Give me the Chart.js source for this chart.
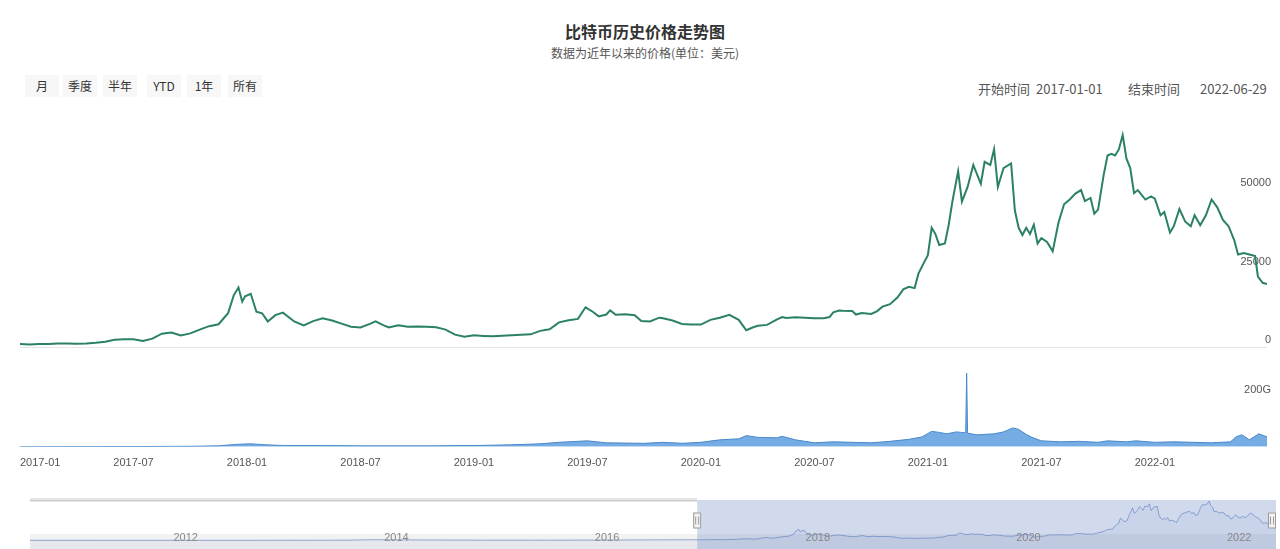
<!DOCTYPE html>
<html>
<head>
<meta charset="utf-8">
<script src="https://cdn.jsdelivr.net/npm/chart.js@4.4.1/dist/chart.umd.min.js"></script>
<style>
body { margin: 0; background: #fff; font-family: "Noto Sans CJK SC", "Liberation Sans", sans-serif; }
#wrap { position: relative; width: 1280px; height: 549px; overflow: hidden; }
.t { position: absolute; white-space: nowrap; line-height: 1; }
#title { left: 0; width: 1290px; top: 23px; text-align: center; font-size: 16px; font-weight: bold; color: #333; }
#subtitle { left: 0; width: 1290px; top: 47px; text-align: center; font-size: 12px; color: #555; }
.btn { position: absolute; top: 75px; height: 22px; width: 34px; line-height: 22px; text-align: center; font-size: 12px; color: #333; background: #f7f7f7; transform: translateX(-50%); }
.inp { position: absolute; top: 79px; font-size: 13px; color: #555; }
#mainBox { position: absolute; left: 0; top: 116px; width: 1280px; height: 358px; }
#navBox { position: absolute; left: 0; top: 497px; width: 1280px; height: 52px; }
</style>
</head>
<body>
<div id="wrap">
  <div class="t" id="title">比特币历史价格走势图</div>
  <div class="t" id="subtitle">数据为近年以来的价格(单位：美元)</div>
  <div id="buttons"></div>
  <div id="inputs"></div>
  <div id="mainBox"><canvas id="main"></canvas></div>
  <div id="navBox"><canvas id="nav"></canvas></div>
</div>
<script>
// x values are months counted from 2017-01-01
const priceX = [0, 0.5, 1, 1.5, 2, 2.5, 3, 3.5, 4, 4.5, 5, 5.5, 6, 6.5, 7, 7.5, 8, 8.5, 9, 9.5,
  10, 10.5, 11, 11.3, 11.55, 11.75, 11.9, 12.2, 12.5, 12.8, 13.1, 13.5, 13.9, 14.5, 15, 15.5,
  16, 16.5, 17, 17.5, 18, 18.5, 18.8, 19.2, 19.5, 20, 20.5, 21, 21.5, 22, 22.5, 23, 23.5, 24,
  24.5, 25, 25.5, 26, 26.5, 27, 27.5, 28, 28.5, 29, 29.5, 29.9, 30.3, 30.6, 31, 31.2, 31.5, 32,
  32.5, 32.85, 33.3, 33.8, 34, 34.5, 35, 35.5, 36,
  36.5, 37, 37.5, 38, 38.4, 38.7, 39, 39.5, 40, 40.3, 40.5, 41, 41.5, 42, 42.5, 42.8, 43, 43.3,
  43.5, 44, 44.2, 44.5, 45, 45.3, 45.6, 46, 46.4, 46.7, 47, 47.3, 47.5, 47.8, 48,
  48.2, 48.4, 48.6, 48.9, 49.1, 49.3, 49.6, 49.8, 50.1, 50.4, 50.6, 50.8, 51, 51.3, 51.5, 51.7,
  52, 52.4, 52.6, 52.8, 53, 53.2, 53.4, 53.6, 53.8, 54, 54.3, 54.6, 54.9, 55.2, 55.5, 55.8,
  56.1, 56.3, 56.6, 56.8, 57, 57.3, 57.5, 57.7, 57.9, 58.1, 58.3, 58.5, 58.7, 58.9, 59.1, 59.5,
  59.8, 60, 60.3, 60.5, 60.8, 61, 61.3, 61.6, 61.9, 62.1, 62.4, 62.7, 63, 63.3, 63.6, 63.9,
  64.2, 64.4, 64.7, 65, 65.3, 65.45, 65.7, 65.93];
const priceY = [1000, 830, 980, 1010, 1190, 1180, 1080, 1190, 1420, 1750, 2400, 2500, 2500, 2000, 2720, 4300, 4700, 3700, 4400, 5600,
  6700, 7300, 10800, 16500, 19000, 14500, 16200, 17000, 11300, 10800, 8200, 10200, 11000, 8200, 6900, 8300,
  9200, 8500, 7500, 6500, 6300, 7400, 8200, 7000, 6300, 7000, 6500, 6600, 6500, 6350, 5600, 4000, 3300, 3800,
  3600, 3450, 3650, 3800, 3950, 4100, 5200, 5700, 7900, 8600, 9000, 12700, 11200, 9800, 10400, 11700, 10300, 10500,
  10200, 8300, 8200, 9400, 9200, 8500, 7400, 7200, 7200,
  8700, 9400, 10300, 8700, 5400, 6200, 6800, 7100, 8800, 9600, 9300, 9500, 9400, 9200, 9200, 9600, 11100, 11700,
  11600, 11500, 10400, 10900, 10600, 11400, 12900, 13700, 15900, 18400, 19200, 18800, 23400, 27000, 29300,
  38000, 36000, 32500, 33000, 38900, 46500, 56000, 46300, 51000, 58000, 55000, 52000, 59000, 58000, 63000, 51000,
  57000, 58500, 43500, 38000, 35700, 38000, 36000, 39000, 33000, 34700, 33500, 30500, 39500, 45500, 47000, 48900,
  50000, 46500, 47500, 42500, 43800, 55000, 61000, 61500, 61000, 63000, 67500, 60000, 57000, 49000, 50000, 47000,
  48000, 47300, 42000, 43000, 36500, 38500, 44000, 40000, 38500, 42000, 38800, 42000, 47000, 44500, 40500, 38500,
  34000, 29500, 30000, 29500, 29000, 22500, 20500, 20100];

// volume in G (billions of USD)
const volX = [0, 6, 9, 10.5, 11.5, 12.2, 13, 14, 16, 18, 20, 22, 23, 24, 26, 27.5, 28.5, 29.5, 30, 31,
  33, 34, 35, 36, 37, 38, 38.4, 39, 40, 40.3, 41, 42, 43, 44, 45, 46, 47, 47.7, 48.2, 48.6,
  49, 49.5, 50.0, 50.05, 50.1, 50.3, 50.6, 51, 51.5, 52, 52.5, 52.8, 53.2, 53.5, 54, 55, 56, 57,
  57.5, 58.5, 59, 60, 61, 62, 63, 64, 64.3, 64.6, 65, 65.5, 65.93];
const volY = [0.5, 1, 2, 4, 10, 12, 8, 5, 5, 4, 4, 4, 5, 5, 8, 12, 18, 22, 24, 16,
  14, 18, 14, 18, 28, 32, 45, 38, 36, 42, 28, 16, 20, 18, 16, 22, 30, 40, 62, 58,
  52, 60, 56, 296, 55, 52, 48, 50, 52, 60, 76, 70, 50, 38, 24, 20, 22, 18,
  24, 20, 24, 18, 20, 18, 16, 20, 40, 48, 28, 52, 40];

// older history, only shown in the navigator
const earlyX = [-76, -67, -60, -50, -45, -40, -37, -31, -24, -19, -14, -7, -1];
const earlyY = [0.06, 18, 5, 13, 130, 200, 1000, 600, 250, 240, 350, 650, 950];

const endMonth = 65.93;
const navStart = -76;
const xTickMonths = [0, 6, 12, 18, 24, 30, 36, 42, 48, 54, 60];
const xTickLabels = ['2017-01', '2017-07', '2018-01', '2018-07', '2019-01', '2019-07',
  '2020-01', '2020-07', '2021-01', '2021-07', '2022-01'];
const priceTicks = [0, 25000, 50000];
const volTicks = [200];
const navYearMonths = [-60, -36, -12, 12, 36, 60];
const navYearLabels = ['2012', '2014', '2016', '2018', '2020', '2022'];
const rangeButtons = ['月', '季度', '半年', 'YTD', '1年', '所有'];
const buttonCenters = [42, 80, 120, 164, 204, 245];
const rangeTexts = ['开始时间', '2017-01-01', '结束时间', '2022-06-29'];
const rangeLefts = [978, 1036, 1128, 1200];

const pts = (xs, ys) => xs.map((x, i) => ({ x: x, y: ys[i] }));

rangeButtons.forEach((b, i) => {
  const el = document.createElement('div');
  el.className = 'btn';
  el.style.left = buttonCenters[i] + 'px';
  el.textContent = b;
  document.getElementById('buttons').appendChild(el);
});
rangeTexts.forEach((s, i) => {
  const el = document.createElement('div');
  el.className = 'inp';
  el.style.left = rangeLefts[i] + 'px';
  el.textContent = s;
  document.getElementById('inputs').appendChild(el);
});

Chart.defaults.font.family = '"Liberation Sans", "Noto Sans CJK SC", sans-serif';

new Chart(document.getElementById('main'), {
  type: 'line',
  data: {
    datasets: [{
      data: pts(priceX, priceY),
      yAxisID: 'y',
      borderColor: '#2b8168',
      borderWidth: 2,
      pointRadius: 0,
      tension: 0
    }, {
      data: pts(volX, volY),
      yAxisID: 'yv',
      borderColor: '#4a89cc',
      backgroundColor: '#74ace3',
      borderWidth: 1,
      pointRadius: 0,
      fill: 'origin'
    }]
  },
  options: {
    animation: false,
    responsive: true,
    maintainAspectRatio: false,
    layout: { padding: { left: 20, right: 5, top: 1, bottom: 2 } },
    plugins: { legend: { display: false }, tooltip: { enabled: false } },
    scales: {
      x: {
        type: 'linear',
        min: 0,
        max: endMonth,
        grid: { display: false },
        border: { display: false },
        afterBuildTicks: s => { s.ticks = xTickMonths.concat([endMonth]).map(v => ({ value: v })); },
        ticks: {
          autoSkip: false, maxRotation: 0, align: 'inner', padding: 2,
          color: '#555', font: { size: 11 },
          callback: (v, i) => xTickLabels[i] || ''
        }
      },
      y: {
        type: 'linear',
        position: 'right',
        stack: 'panels',
        stackWeight: 225,
        min: -1000,
        max: 70200,
        afterBuildTicks: s => { s.ticks = priceTicks.map(v => ({ value: v })); },
        grid: { drawTicks: false, color: c => (c.tick && c.tick.value === 0) ? '#e6e6e6' : 'transparent' },
        border: { display: false },
        ticks: { mirror: true, padding: 4, labelOffset: -7, color: '#555', font: { size: 11 }, callback: v => String(v) }
      },
      yv: {
        type: 'linear',
        position: 'right',
        stack: 'panels',
        stackWeight: 97,
        min: 0,
        max: 388,
        afterBuildTicks: s => { s.ticks = volTicks.map(v => ({ value: v })); },
        grid: { display: false, drawTicks: false },
        border: { display: false },
        ticks: { mirror: true, padding: 4, labelOffset: -7, color: '#555', font: { size: 11 }, callback: v => v + 'G' }
      }
    }
  }
});

// navigator band: mask over the selected range, handles and year labels
const navDecor = {
  id: 'navDecor',
  beforeDatasetsDraw(chart) {
    const a = chart.chartArea, ctx = chart.ctx;
    ctx.save();
    ctx.fillStyle = '#f2f2f2';
    ctx.fillRect(a.left, a.bottom - 15, a.right - a.left, 15);
    ctx.restore();
  },
  afterDatasetsDraw(chart) {
    const a = chart.chartArea, ctx = chart.ctx, xs = chart.scales.x;
    const x0 = xs.getPixelForValue(0), x1 = xs.getPixelForValue(endMonth);
    ctx.save();
    ctx.fillStyle = 'rgba(102,133,194,0.3)';
    ctx.fillRect(x0, a.top, x1 - x0, a.bottom - a.top);
    ctx.fillStyle = '#e6e6e6';
    ctx.fillRect(a.left, a.top - 2, x0 - a.left, 4);
    ctx.strokeStyle = '#cccccc';
    ctx.lineWidth = 1;
    ctx.beginPath();
    ctx.moveTo(a.left, a.top + 0.5);
    ctx.lineTo(x0, a.top + 0.5);
    ctx.stroke();
    const mid = (a.top + a.bottom) / 2 - 4;
    [x0, x1 - 4].forEach(h => {
      ctx.fillStyle = '#f2f2f2';
      ctx.strokeStyle = '#999';
      ctx.fillRect(h - 4, mid - 8, 8, 16);
      ctx.strokeRect(h - 3.5, mid - 7.5, 7, 15);
      ctx.beginPath();
      ctx.moveTo(h - 1.5, mid - 4); ctx.lineTo(h - 1.5, mid + 4);
      ctx.moveTo(h + 1.5, mid - 4); ctx.lineTo(h + 1.5, mid + 4);
      ctx.stroke();
    });
    ctx.fillStyle = '#888';
    ctx.font = '11px "Liberation Sans", sans-serif';
    ctx.textAlign = 'left';
    ctx.textBaseline = 'middle';
    navYearMonths.forEach((m, i) => {
      ctx.fillText(navYearLabels[i], xs.getPixelForValue(m) + 3, a.bottom - 11);
    });
    ctx.restore();
  }
};

new Chart(document.getElementById('nav'), {
  type: 'line',
  data: {
    datasets: [{
      data: pts(earlyX.concat(priceX), earlyY.concat(priceY)),
      borderColor: 'rgba(51,92,173,0.5)',
      backgroundColor: 'rgba(51,92,173,0.06)',
      borderWidth: 1,
      pointRadius: 0,
      fill: 'start'
    }]
  },
  options: {
    animation: false,
    responsive: true,
    maintainAspectRatio: false,
    layout: { padding: { left: 30, right: 4, top: 3, bottom: 0 } },
    plugins: { legend: { display: false }, tooltip: { enabled: false } },
    scales: {
      x: { type: 'linear', display: false, min: navStart, max: endMonth },
      y: { display: false, min: -15000, max: 69500 }
    }
  },
  plugins: [navDecor]
});
</script>
</body>
</html>
